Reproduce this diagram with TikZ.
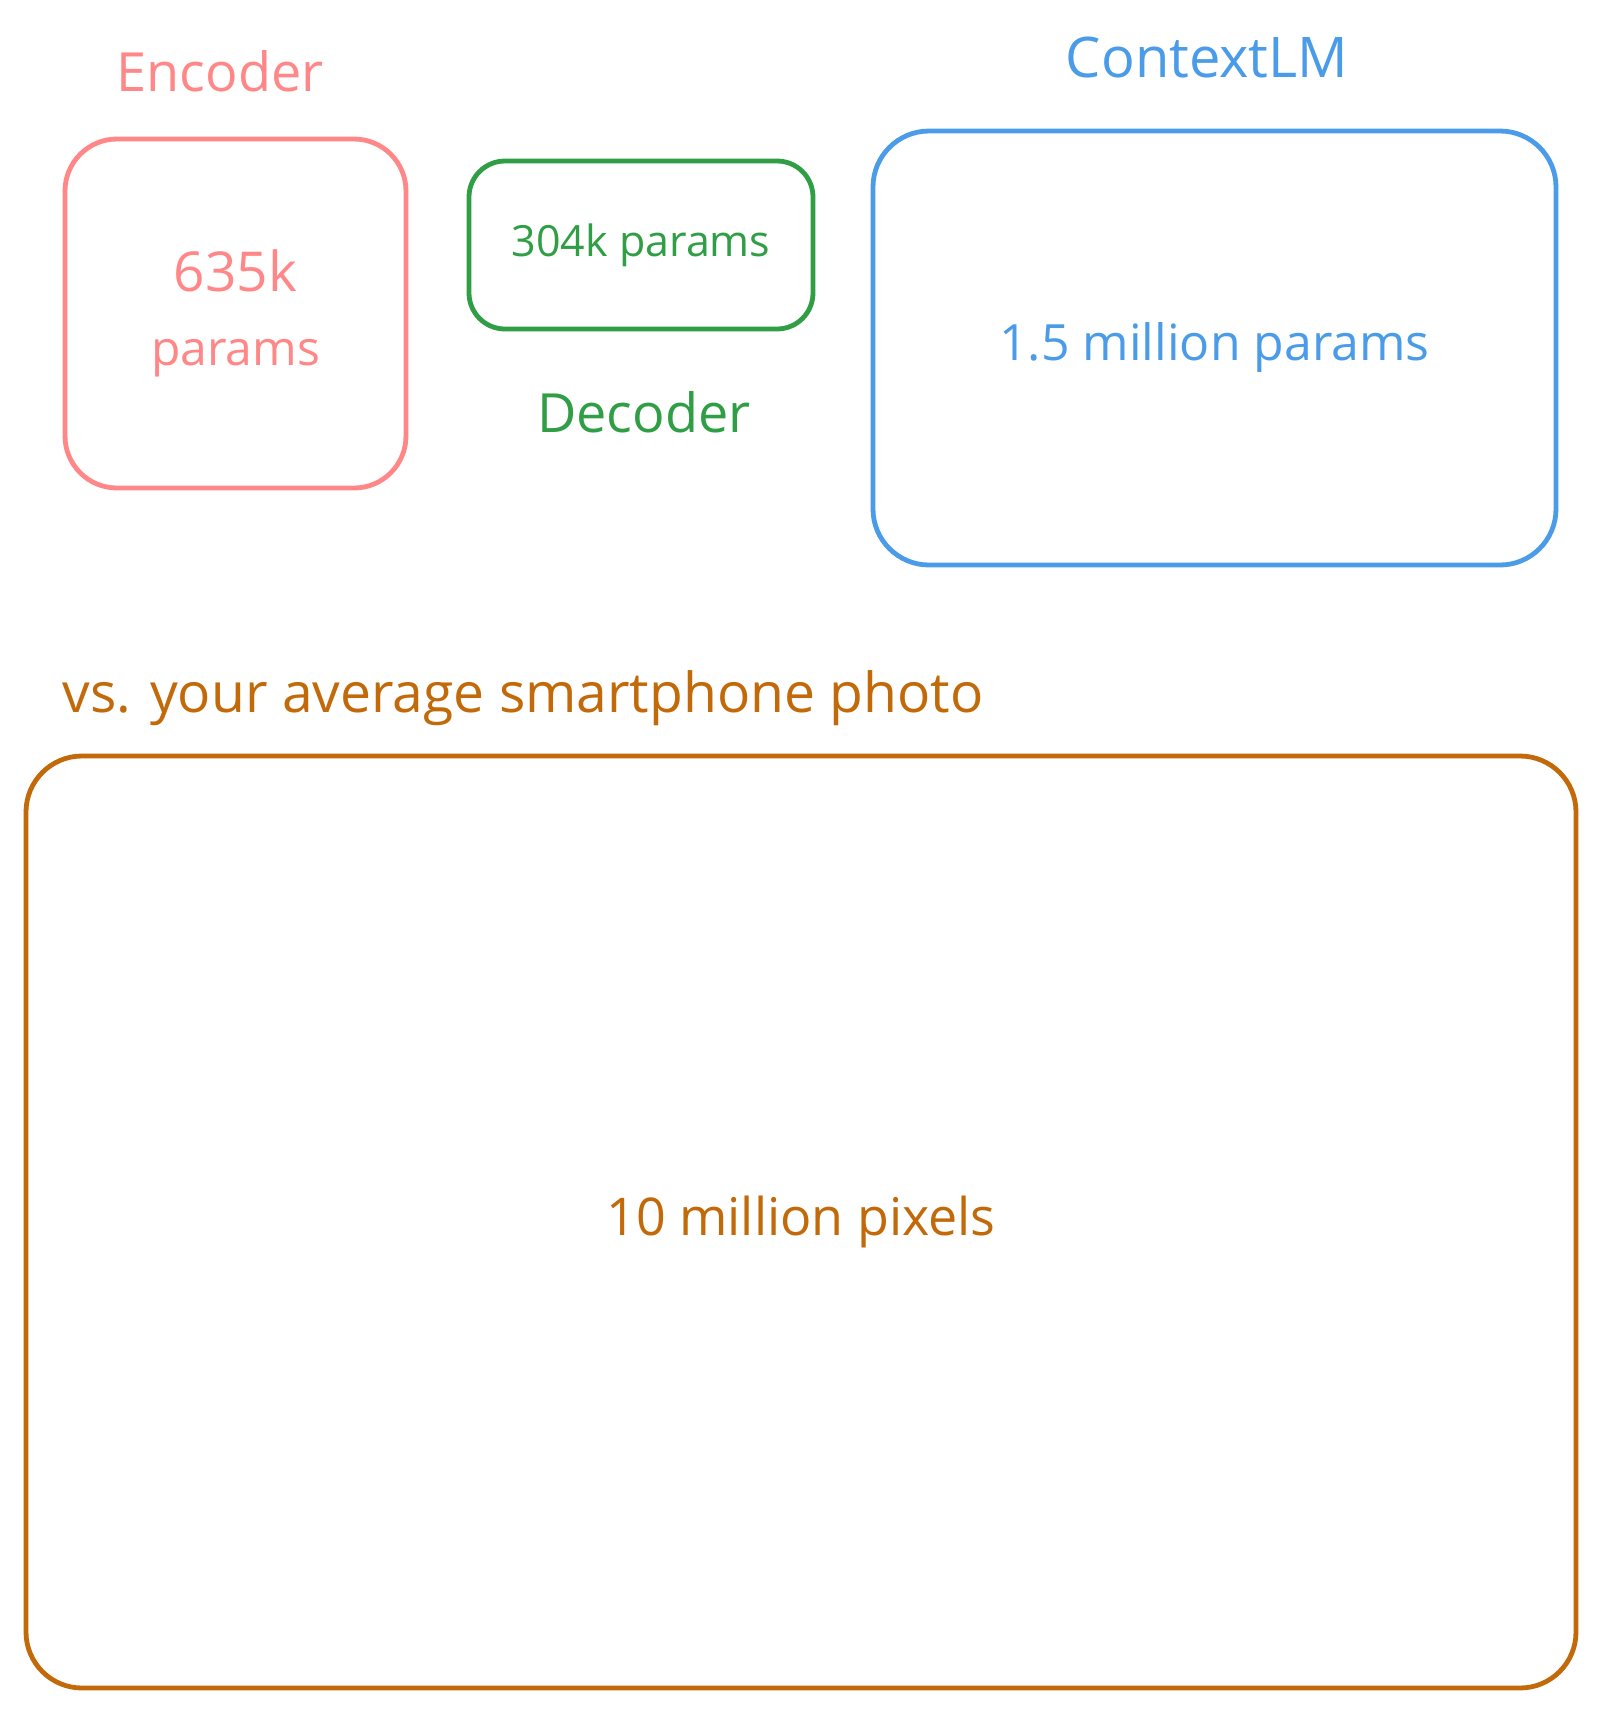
\documentclass[tikz,border=0pt]{standalone}
\usepackage{fontspec}
\setmainfont{Open Sans}
\definecolor{cred}{HTML}{FF8787}
\definecolor{cgreen}{HTML}{2F9E44}
\definecolor{cblue}{HTML}{4A9BE8}
\definecolor{corange}{HTML}{C2690A}
\begin{document}
\begin{tikzpicture}[x=0.5pt,y=-0.5pt,
  box/.style={draw, line width=2.4pt, rounded corners=26pt, inner sep=0pt, align=center},
  lbl/.style={inner sep=0pt}]
\useasboundingbox[fill=white] (0,0) rectangle (1600,1710);
% boxes
\node[box, cred, minimum width=170.5pt, minimum height=174.5pt,
      font=\fontsize{24}{37}\selectfont] (enc) at (235.5,313.5) {{\fontsize{27.5}{37}\selectfont 635k}\\params};
\node[box, cgreen, rounded corners=18pt, minimum width=172pt, minimum height=84pt,
      font=\fontsize{21.5}{26}\selectfont] (dec) at (641,245) {304k params};
\node[box, cblue, rounded corners=28pt, minimum width=341.5pt, minimum height=217pt,
      font=\fontsize{25}{30}\selectfont] (ctx) at (1214.5,348) {1.5 million params};
\node[box, corange, rounded corners=28pt, minimum width=775pt, minimum height=466pt,
      font=\fontsize{26}{31}\selectfont] (img) at (801,1222) {10 million pixels};
% labels
\node[lbl, cred, font=\fontsize{27}{32}\selectfont] (encl) at (220,71) {Encoder};
\node[lbl, cgreen, font=\fontsize{27}{32}\selectfont] (decl) at (644,412) {Decoder};
\node[lbl, cblue, font=\fontsize{28}{33}\selectfont] (ctxl) at (1207,57) {ContextLM};
\node[lbl, corange, anchor=west, font=\fontsize{27.6}{33}\selectfont] (vsl) at (62,698) {vs. your average smartphone photo};
\end{tikzpicture}
\end{document}
